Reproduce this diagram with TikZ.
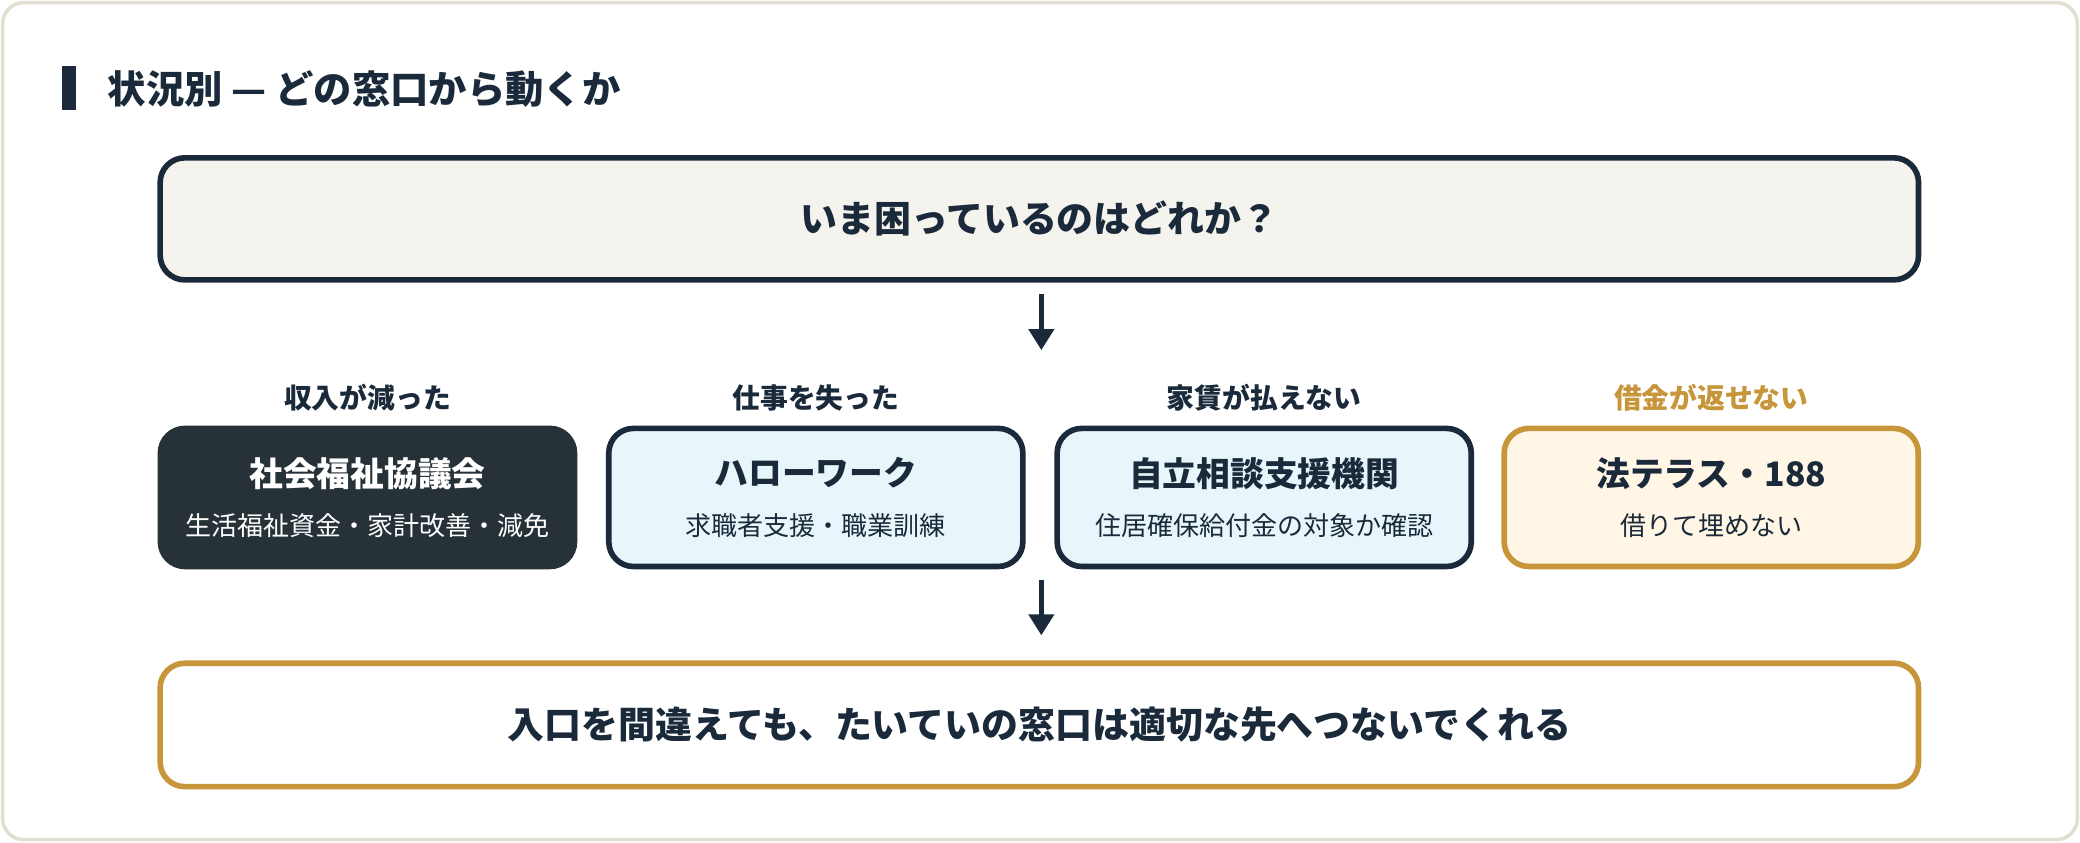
\documentclass[tikz,border=0pt]{standalone}
\usepackage{fontspec}
\setmainfont{Noto Sans CJK JP}
\usetikzlibrary{positioning, arrows.meta}
\definecolor{navy}{HTML}{1B2A3A}
\definecolor{slate}{HTML}{263238}
\definecolor{gold}{HTML}{C8963A}
\definecolor{paper}{HTML}{F5F3EE}
\definecolor{skyfill}{HTML}{E8F6FC}
\definecolor{creamfill}{HTML}{FFF6E5}
\definecolor{frameline}{HTML}{E2DFD2}

\begin{document}
\begin{tikzpicture}[x=0.013265cm, y=-0.013265cm,
    wide/.style={rectangle, rounded corners=7pt, line width=1.6pt, minimum width=17.576cm, minimum height=1.22cm,
                 font=\fontsize{10.5}{12}\selectfont\bfseries, text=navy},
    choice/.style={rectangle, rounded corners=7pt, line width=1.6pt, minimum width=4.139cm, minimum height=1.38cm,
                   align=center, text=navy},
    head/.style={font=\fontsize{7.9}{9}\selectfont\bfseries, text=navy},
    arrow/.style={-{Triangle[length=6pt, width=7pt]}, line width=1.6pt, draw=navy}
]
    \newcommand{\boxtext}[2]{{\fontsize{9.6}{11}\selectfont\bfseries #1}\\[2pt]{\fontsize{7.4}{9}\selectfont #2}}

    % Frame
    \draw[frameline, fill=white, rounded corners=6pt, line width=1pt] (2,2) rectangle (1566,633);
    \fill[navy] (47,50) rectangle (57,83);
    \node[anchor=west, text=navy, font=\fontsize{10.9}{12}\selectfont\bfseries] (title) at (72,67) {状況別 — どの窓口から動くか};

    % Question
    \node[wide, draw=navy, fill=paper] (ask) at (783.5,165) {いま困っているのはどれか？};

    % Choices
    \node[choice, draw=slate, fill=slate, text=white] (shakyo) at (277,375) {\boxtext{社会福祉協議会}{生活福祉資金・家計改善・減免}};
    \node[choice, draw=navy, fill=skyfill] (hello) at (615,375) {\boxtext{ハローワーク}{求職者支援・職業訓練}};
    \node[choice, draw=navy, fill=skyfill] (jiritsu) at (953,375) {\boxtext{自立相談支援機関}{住居確保給付金の対象か確認}};
    \node[choice, draw=gold, fill=creamfill] (houterasu) at (1290,375) {\boxtext{法テラス・188}{借りて埋めない}};

    \node[head] at (277,300) {収入が減った};
    \node[head] at (615,300) {仕事を失った};
    \node[head] at (953,300) {家賃が払えない};
    \node[head, text=gold] at (1290,300) {借金が返せない};

    % Answer
    \node[wide, draw=gold, fill=white, minimum height=1.234cm] (answer) at (783.5,546.5) {入口を間違えても、たいていの窓口は適切な先へつないでくれる};

    % Arrows
    \coordinate (a1) at (785,222);
    \coordinate (a2) at (785,264);
    \coordinate (b1) at (785,437);
    \coordinate (b2) at (785,479);
    \draw[arrow] (a1) -- (a2);
    \draw[arrow] (b1) -- (b2);

    \useasboundingbox (0,0) rectangle (1568,635);
\end{tikzpicture}
\end{document}
